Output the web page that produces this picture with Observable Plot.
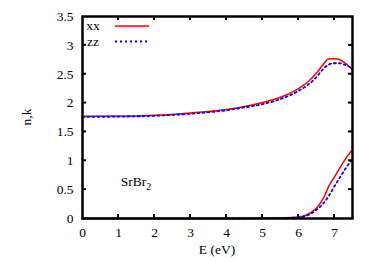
<!DOCTYPE html>
<html>
<head>
<meta charset="utf-8">
<script src="https://cdn.jsdelivr.net/npm/d3@7"></script>
<script src="https://cdn.jsdelivr.net/npm/@observablehq/plot@0.6"></script>
<style>
html,body{margin:0;padding:0;background:#fff;}
svg, svg text{font-family:"Liberation Serif",serif !important;}
</style>
</head>
<body>
<div id="chart"></div>
<script>
const energy = [0, 1, 2, 3, 4, 4.5, 5, 5.5, 6, 6.25, 6.5, 6.7, 6.85, 7, 7.15, 7.3, 7.5];
const nXX = [1.77, 1.775, 1.79, 1.83, 1.89, 1.94, 2.01, 2.10, 2.25, 2.36, 2.52, 2.68, 2.77, 2.77, 2.75, 2.69, 2.58];
const nZZ = [1.76, 1.765, 1.78, 1.815, 1.875, 1.925, 1.98, 2.07, 2.21, 2.31, 2.45, 2.60, 2.67, 2.69, 2.69, 2.66, 2.60];
const kXX = [0, 0, 0, 0, 0, 0.001, 0.004, 0.01, 0.025, 0.07, 0.18, 0.36, 0.57, 0.72, 0.88, 1.03, 1.19];
const kZZ = [0, 0, 0, 0, 0, 0.001, 0.003, 0.008, 0.02, 0.055, 0.15, 0.27, 0.40, 0.56, 0.71, 0.86, 1.03];
const xTicks = [0, 1, 2, 3, 4, 5, 6, 7];
const yTicks = [0, 0.5, 1, 1.5, 2, 2.5, 3, 3.5];
const seriesNames = ["xx", "zz"];
const seriesColors = ["#ff0000", "#0000ff"];
const materialName = "SrBr";
const materialSub = "2";

const rows = (ys) => energy.map((e, i) => ({e, v: ys[i]}));
const FONT = '"Liberation Serif", serif';

const W = 374, H = 262;
const plot = Plot.plot({
  width: W, height: H,
  marginLeft: 82, marginRight: 22, marginTop: 16, marginBottom: 44,
  style: {fontFamily: FONT, fontSize: "13px", color: "#000", background: "#fff"},
  x: {domain: [0, 7.5], label: null},
  y: {domain: [0, 3.5], label: null},
  marks: [
    Plot.line(rows(nXX), {x: "e", y: "v", stroke: seriesColors[0], strokeWidth: 1.5, curve: "monotone-x"}),
    Plot.line(rows(kXX), {x: "e", y: "v", stroke: seriesColors[0], strokeWidth: 1.5, curve: "monotone-x"}),
    Plot.line(rows(nZZ), {x: "e", y: "v", stroke: seriesColors[1], strokeWidth: 1.8, strokeDasharray: "2,3", curve: "monotone-x"}),
    Plot.line(rows(kZZ), {x: "e", y: "v", stroke: seriesColors[1], strokeWidth: 1.8, strokeDasharray: "2,3", curve: "monotone-x"}),
    Plot.axisX({anchor: "bottom", ticks: xTicks, tickSize: 0, tickPadding: 9, fontSize: 13.5, tickFormat: d => String(d)}),
    Plot.axisY({anchor: "left", ticks: yTicks, tickSize: 0, tickPadding: 9, fontSize: 13.5, tickFormat: d => String(d)}),
    Plot.frame({stroke: "#000", strokeWidth: 2.5})
  ]
});
document.getElementById("chart").appendChild(plot);

// inward ticks and annotations derived from the plot scales
const svg = d3.select(plot);
const sx = plot.scale("x"), sy = plot.scale("y");
const x0 = sx.apply(0), x1 = sx.apply(7.5), y0 = sy.apply(0), y1 = sy.apply(3.5);
const g = svg.append("g").attr("stroke", "#000").attr("stroke-width", 2);
xTicks.slice(1).forEach(t => {
  const x = sx.apply(t);
  g.append("line").attr("x1", x).attr("x2", x).attr("y1", y0).attr("y2", y0 - 4);
  g.append("line").attr("x1", x).attr("x2", x).attr("y1", y1).attr("y2", y1 + 4);
});
yTicks.slice(1, -1).forEach(t => {
  const y = sy.apply(t);
  g.append("line").attr("x1", x0).attr("x2", x0 + 4).attr("y1", y).attr("y2", y);
  g.append("line").attr("x1", x1).attr("x2", x1 - 4).attr("y1", y).attr("y2", y);
});

// legend
const lg = svg.append("g").attr("font-size", 13.5).style("font-family", FONT);
seriesNames.forEach((name, i) => {
  const yy = y1 + 10 + i * 15.5;
  lg.append("text").attr("x", x0 + 11).attr("y", yy).attr("dy", "0.32em").text(name);
  lg.append("line").attr("x1", x0 + 33).attr("x2", x0 + 67).attr("y1", yy).attr("y2", yy)
    .attr("stroke", seriesColors[i]).attr("stroke-width", i ? 1.8 : 1.5)
    .attr("stroke-dasharray", i ? "2,3" : null);
});

// material label
const mt = svg.append("text").attr("x", sx.apply(1.5)).attr("y", sy.apply(0.55))
  .attr("font-size", 13.5).style("font-family", FONT);
mt.append("tspan").text(materialName);
mt.append("tspan").attr("dy", 4).attr("font-size", 10).text(materialSub);

// axis titles
svg.append("text").attr("x", (x0 + x1) / 2).attr("y", H - 8).attr("text-anchor", "middle")
  .attr("font-size", 13.5).style("font-family", FONT).text("E (eV)");
svg.append("text").attr("transform", `translate(31,${(y0 + y1) / 2}) rotate(-90)`).attr("text-anchor", "middle")
  .attr("font-size", 13.5).style("font-family", FONT).text("n,k");
</script>
</body>
</html>
